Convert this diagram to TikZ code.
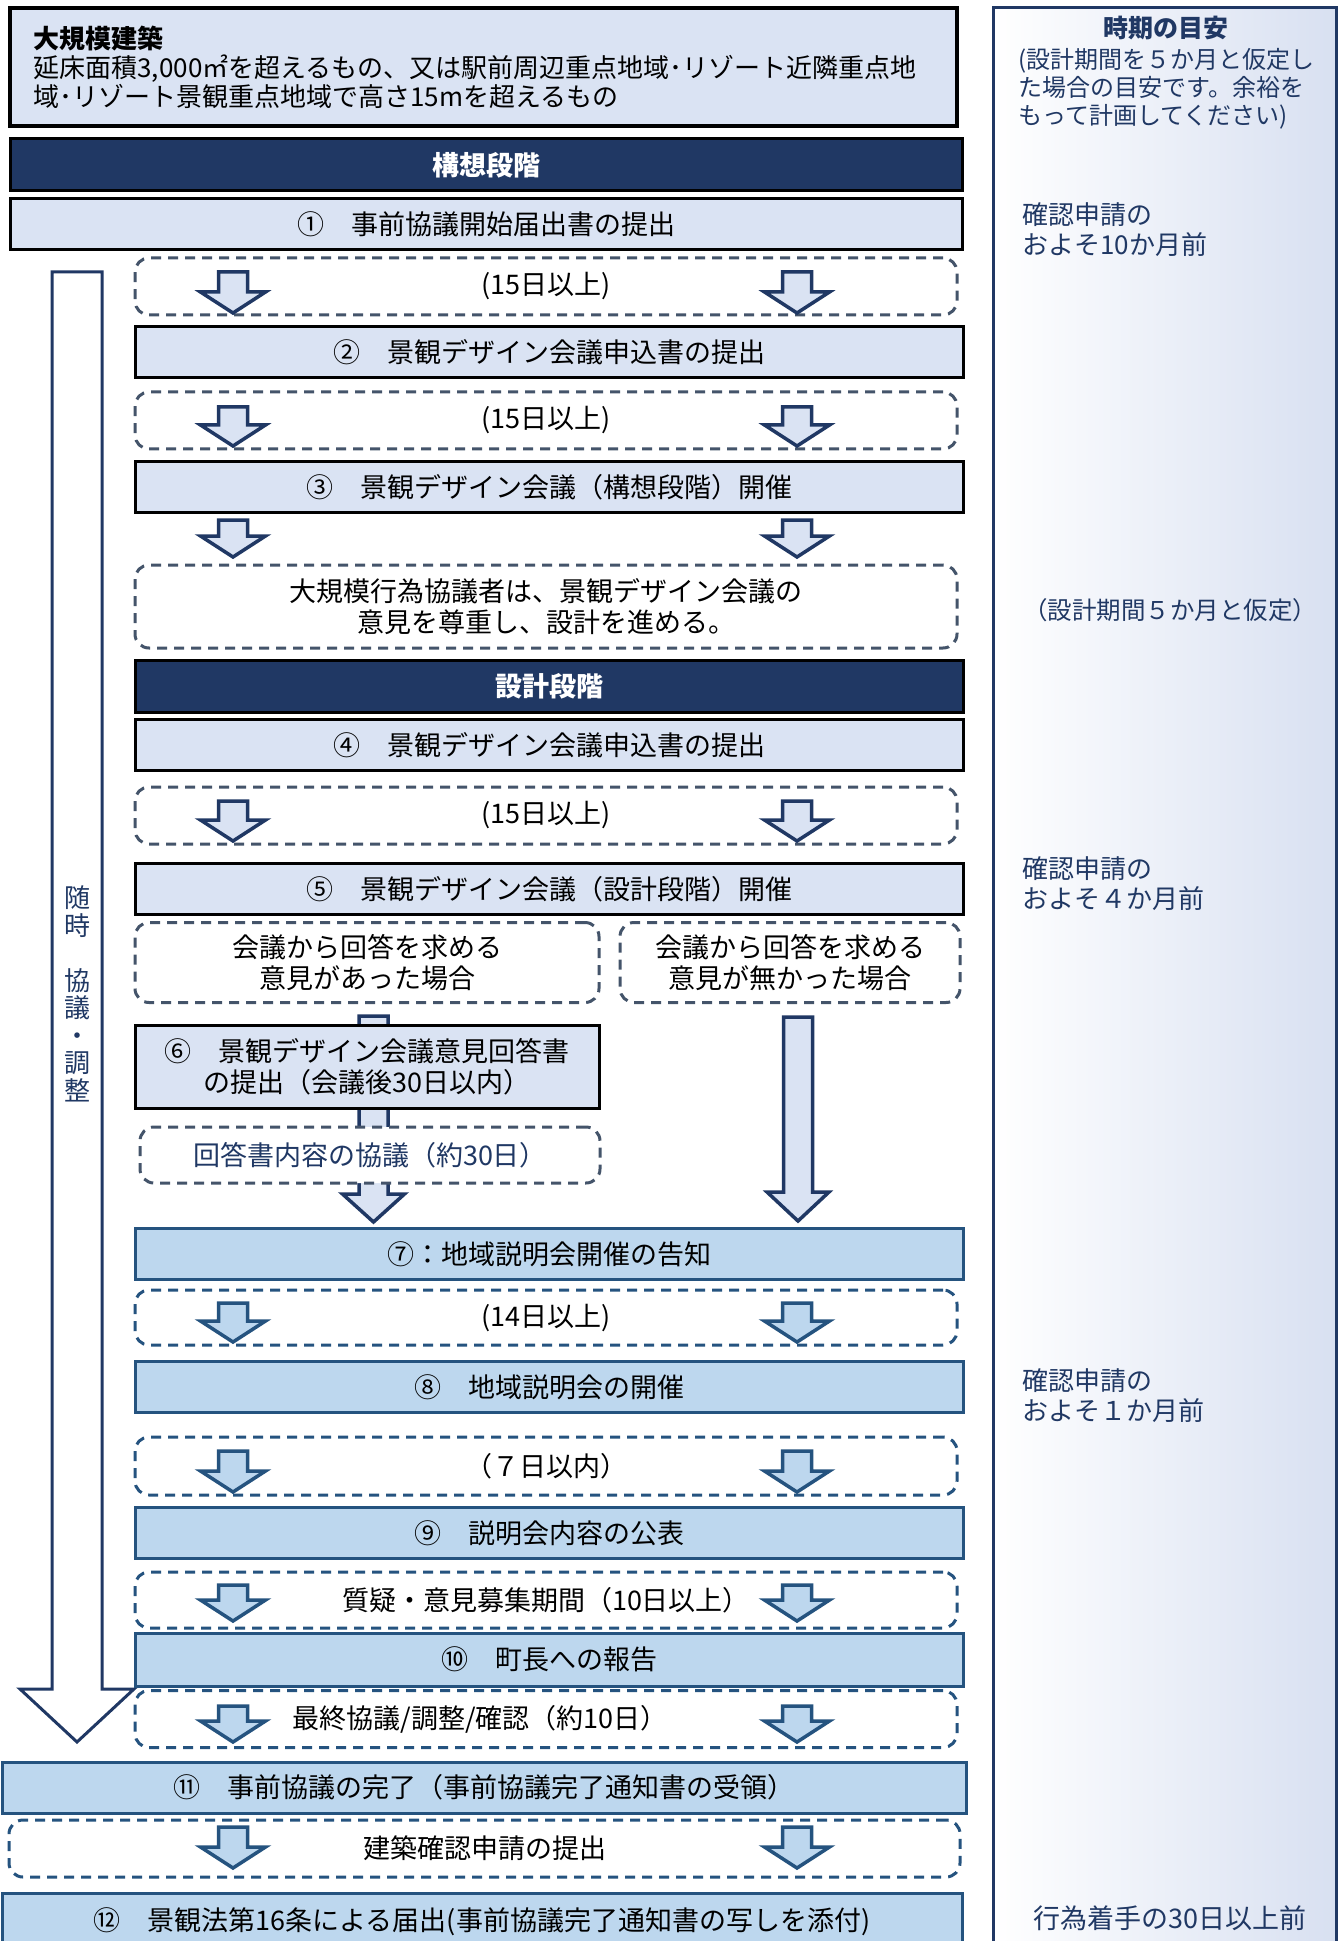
\documentclass[tikz,border=0pt]{standalone}
\usepackage{fontspec}
\setmainfont{Noto Sans CJK JP}
\usetikzlibrary{calc}

\definecolor{lav}{HTML}{DAE3F3}
\definecolor{navy}{HTML}{203864}
\definecolor{slate}{HTML}{44546A}
\definecolor{sky}{HTML}{BDD7EE}
\definecolor{steel}{HTML}{25537F}
\definecolor{pale}{HTML}{D8E0F1}

\newcommand{\blockarrow}[6][]{%
	\draw[#1] let \p1=#2, \p2=#3 in
	(\x1-#4,\y1) -- (\x1+#4,\y1) -- (\x1+#4,\y2+#6) -- (\x1+#5,\y2+#6)
	-- (\x1,\y2) -- (\x1-#5,\y2+#6) -- (\x1-#4,\y2+#6) -- cycle;}

\begin{document}
\begin{tikzpicture}[x=0.5pt,y=-0.5pt,
	every node/.style={inner sep=0pt,font=\fontsize{13.5}{15.5}\selectfont},
	stepbox/.style={draw=black,line width=1.5pt,fill=lav,minimum height=25.5pt,align=center},
	localbox/.style={draw=steel,line width=1.5pt,fill=sky,minimum height=25.5pt,align=center},
	phasebar/.style={draw=black,line width=1.5pt,fill=navy,text=white,minimum height=26pt,font=\fontsize{13.5}{15.5}\selectfont\bfseries},
	waitbox/.style={draw=slate,line width=1.5pt,dash pattern=on 5pt off 3.5pt,rounded corners=7pt,fill=white,minimum height=28.5pt,align=center},
	localwait/.style={waitbox,draw=steel},
	darr/.style={draw=navy,fill=lav,line width=1.75pt},
	larr/.style={draw=steel,fill=sky,line width=1.75pt},
	guidetext/.style={text=navy,align=left,font=\fontsize{13}{15}\selectfont},
	main/.style={minimum width=414pt},
	mainwait/.style={minimum width=411pt}]
	
	\useasboundingbox (0,0) rectangle (1343,1941);
	
	\node[draw=navy,line width=1.5pt,left color=white,right color=pale,minimum width=171.5pt,minimum height=976pt] (guide) at (1164.5,984) {};
	\node[text=navy,font=\fontsize{12.5}{15}\selectfont\bfseries] (gtitle) at (1166,28) {時期の目安};
	\node[guidetext,anchor=west,font=\fontsize{12}{14}\selectfont] (gnote) at (1018,89) {(設計期間を５か月と仮定し\\た場合の目安です。余裕を\\もって計画してください)};
	\node[guidetext,anchor=west] (g10) at (1022,230) {確認申請の\\およそ10か月前};
	\node[text=navy,font=\fontsize{12.25}{15}\selectfont] (gdesign) at (1170,610) {（設計期間５か月と仮定）};
	\node[guidetext,anchor=west] (g4) at (1022,884) {確認申請の\\およそ４か月前};
	\node[guidetext,anchor=west] (g1) at (1022,1396) {確認申請の\\およそ１か月前};
	\node[text=navy,font=\fontsize{13.5}{15}\selectfont] (g30) at (1170,1918) {行為着手の30日以上前};
	
	\node[draw=black,line width=2pt,fill=lav,minimum width=473.5pt,minimum height=59pt,text width=450pt,align=left,font=\fontsize{13}{14.5}\selectfont] (cond) at (483.5,67) {\textbf{大規模建築}\\延床面積3,000㎡を超えるもの、又は駅前周辺重点地域･リゾート近隣重点地\\域･リゾート景観重点地域で高さ15mを超えるもの};
	
	\blockarrow[draw=navy,fill=white,line width=1.5pt]{(77,272)}{(77,1742)}{12.5pt}{28.5pt}{26.5pt}
	\node[text=navy,align=center,font=\fontsize{13}{13.75}\selectfont] (anytime) at (77,994) {随\\時\\[13.75pt]協\\議\\・\\調\\整};
	
	\node[phasebar,minimum width=476pt] (plan) at (486,165) {構想段階};
	\node[stepbox,minimum width=476pt] (s1) at (486,224.5) {①　事前協議開始届出書の提出};
	\node[waitbox,mainwait] (d1) at (546,286.5) {(15日以上)};
	\node[stepbox,main] (s2) at (549,352.5) {②　景観デザイン会議申込書の提出};
	\node[waitbox,mainwait] (d2) at (546,420.5) {(15日以上)};
	\node[stepbox,main] (s3) at (549,487) {③　景観デザイン会議（構想段階）開催};
	\node[waitbox,mainwait,minimum height=41.5pt] (d3) at (546,606.5) {大規模行為協議者は、景観デザイン会議の\\意見を尊重し、設計を進める。};
	\node[phasebar,main] (design) at (549,686) {設計段階};
	\node[stepbox,main] (s4) at (549,745) {④　景観デザイン会議申込書の提出};
	\node[waitbox,mainwait] (d4) at (546,815.5) {(15日以上)};
	\node[stepbox,main] (s5) at (549,889) {⑤　景観デザイン会議（設計段階）開催};
	\node[waitbox,minimum width=232pt,minimum height=40pt] (askd) at (367,962.5) {会議から回答を求める\\意見があった場合};
	\node[waitbox,minimum width=170pt,minimum height=40pt] (nod) at (790,962.5) {会議から回答を求める\\意見が無かった場合};
	
	\foreach \t/\b in {272/313,407/446,520/557,801/841}{
		\blockarrow[darr]{(233,\t)}{(233,\b)}{7.25pt}{16.25pt}{10.5pt}
		\blockarrow[darr]{(797,\t)}{(797,\b)}{7.25pt}{16.25pt}{10.5pt}
	}
	
	\node[localbox,main] (s7) at (549,1254) {⑦：地域説明会開催の告知};
	
	\blockarrow[darr]{($(askd.south)+(6.5,12)$)}{($(s7.north)+(0,-5)$)}{7.25pt}{15.5pt}{14pt}
	\blockarrow[darr]{($(nod.south)+(8,13)$)}{($(s7.north)+(0,-6)$)}{7.25pt}{15.5pt}{14.5pt}
	
	\node[stepbox,minimum width=232pt,minimum height=41.5pt] (s6) at (367,1066.5) {⑥　景観デザイン会議意見回答書\\の提出（会議後30日以内）};
	\node[waitbox,minimum width=230pt,minimum height=28pt,text=navy] (d6) at (370,1155) {回答書内容の協議（約30日）};
	
	\node[localwait,mainwait,minimum height=27.5pt] (d7) at (546,1317.5) {(14日以上)};
	\node[localbox,main] (s8) at (549,1387) {⑧　地域説明会の開催};
	\node[localwait,mainwait,minimum height=29pt] (d8) at (546,1466) {（７日以内）};
	\node[localbox,main] (s9) at (549,1533) {⑨　説明会内容の公表};
	\node[localwait,mainwait,minimum height=28pt] (d9) at (546,1600) {質疑・意見募集期間（10日以上）};
	\node[localbox,main,minimum height=26.5pt] (s10) at (549,1659.5) {⑩　町長への報告};
	\node[localwait,mainwait,label={[xshift=-33pt]center:最終協議/調整/確認（約10日）}] (d10) at (546,1719) {};
	\node[localbox,minimum width=482pt] (s11) at (484,1787.5) {⑪　事前協議の完了（事前協議完了通知書の受領）};
	\node[localwait,minimum width=475.5pt] (d11) at (484.5,1848.5) {建築確認申請の提出};
	\node[localbox,minimum width=480pt,minimum height=29pt] (s12) at (482,1922) {⑫　景観法第16条による届出(事前協議完了通知書の写しを添付)};
	
	\foreach \t/\b in {1303/1342,1451/1492,1585/1621,1706/1742,1827/1868}{
		\blockarrow[larr]{(233,\t)}{(233,\b)}{7.25pt}{16.25pt}{10.5pt}
		\blockarrow[larr]{(797,\t)}{(797,\b)}{7.25pt}{16.25pt}{10.5pt}
	}
	
\end{tikzpicture}
\end{document}
